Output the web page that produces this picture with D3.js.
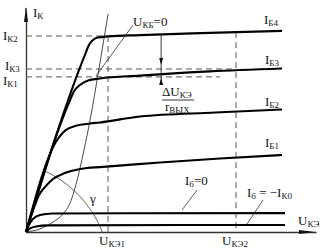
<!DOCTYPE html>
<html><head><meta charset="utf-8">
<script src="https://cdn.jsdelivr.net/npm/d3@7"></script>
<style>
html,body{margin:0;padding:0;background:#fff;}
svg{display:block;}
text{font-family:"Liberation Serif","Times New Roman",serif;fill:#111;}
</style>
</head><body>
<svg id="c" width="323" height="250"></svg>
<script>
// ---- data (U in arbitrary units along UКЭ, I along IК) ----
const curveIB4 = [[0,0],[2.07,8.18],[2.17,8.50],[2.31,8.73],[2.48,8.84],[2.83,8.89],[3.93,8.95],[6.34,9.05],[8.83,9.14]];
const curveIB3 = [[0,0],[1.52,6.0],[1.66,6.41],[1.86,6.68],[2.14,6.89],[2.55,6.98],[3.93,7.11],[6.34,7.30],[8.83,7.43]];
const curveIB2 = [[0,0],[1.03,4.09],[1.17,4.36],[1.38,4.64],[1.69,4.82],[2.21,4.93],[2.55,4.98],[3.93,5.25],[6.52,5.43],[8.83,5.57]];
const curveIB1 = [[0,0],[0.31,1.23],[0.45,1.68],[0.66,2.05],[0.93,2.41],[1.34,2.68],[2.10,2.91],[2.55,2.95],[4.62,3.16],[6.69,3.34],[8.83,3.50]];
const curveIb0 = [[0,0],[0.10,0.32],[0.24,0.59],[0.48,0.77],[0.90,0.84],[8.93,0.86]];
const curveIbK0 = [[0,0],[0.14,0.16],[0.34,0.25],[0.76,0.30],[8.93,0.32]];
const curveUKB0 = [[0,0],[0.48,0.14],[0.93,0.45],[1.28,0.82],[1.52,1.32],[1.79,2.50],[2.00,3.73],[2.21,5.09],[2.52,7.45],[2.83,9.91]];
const levelsIK = {IK2: 8.91, IK3: 7.41, IK1: 7.05};
const levelsU = {UKE1: 2.83, UKE2: 7.24};
const dimensionU = 4.66;        // where the ΔI arrows sit
const gammaCenter = [-0.97,-1.86]; // centre of the γ arc (data units)
const gammaEnd = 2.63;          // where the γ arc meets the U axis

const svg = d3.select("#c");
const x = d3.scaleLinear().domain([0,10]).range([26,316]);
const y = d3.scaleLinear().domain([0,10]).range([232,12]);

function valAt(curve,u){
  const i = d3.bisector(d=>d[0]).left(curve,u);
  if(i<=0) return curve[0][1];
  if(i>=curve.length) return curve[curve.length-1][1];
  const a=curve[i-1], b=curve[i];
  return a[1]+(b[1]-a[1])*(u-a[0])/(b[0]-a[0]);
}

// axes (domain lines only)
svg.append("g").attr("transform",`translate(0,${y(0)})`)
  .call(d3.axisBottom(x).tickValues([]).tickSizeOuter(0))
  .call(g=>g.select(".domain").attr("stroke","#333").attr("stroke-width",1.3));
svg.append("g").attr("transform",`translate(${x(0)},0)`)
  .call(d3.axisLeft(y).tickValues([]).tickSizeOuter(0))
  .call(g=>g.select(".domain").attr("stroke","#333").attr("stroke-width",1.3));
svg.append("line").attr("x1",x(0)).attr("x2",x(0)).attr("y1",y(10)).attr("y2",8).attr("stroke","#333").attr("stroke-width",1.3);
// arrowheads
svg.append("path").attr("d",`M${x(0)},7 L${x(0)-2},22 L${x(0)+2},22 Z`).attr("fill","#111");
svg.append("path").attr("d",`M315,${y(0)} L299,${y(0)-2} L299,${y(0)+2} Z`).attr("fill","#111");

// dashed helper lines
const dash = (x1,y1,x2,y2)=>svg.append("line").attr("x1",x1).attr("y1",y1).attr("x2",x2).attr("y2",y2)
  .attr("stroke","#555").attr("stroke-width",1).attr("stroke-dasharray","6,4");
dash(x(0),y(levelsIK.IK2),x(levelsU.UKE1),y(levelsIK.IK2));
dash(x(0),y(levelsIK.IK3),x(levelsU.UKE2),y(levelsIK.IK3));
dash(x(0),y(levelsIK.IK1),x(6.69),y(levelsIK.IK1));
dash(x(levelsU.UKE1),y(levelsIK.IK2),x(levelsU.UKE1),y(0));
dash(x(levelsU.UKE2),y(valAt(curveIB4,levelsU.UKE2)),x(levelsU.UKE2),y(0));

// curves
const line = d3.line().x(d=>x(d[0])).y(d=>y(d[1])).curve(d3.curveMonotoneX);
svg.append("path").attr("d",line(curveUKB0)).attr("fill","none").attr("stroke","#333").attr("stroke-width",0.9);

// gamma arc: circle (in pixels) from the U axis up to the steep line of IБ4
const cx = x(gammaCenter[0]), cy = y(gammaCenter[1]);
const r = Math.hypot(x(gammaEnd)-cx, y(0)-cy);
const steep = curveIB4[1];
const steepXat = py => x(0) + (x(steep[0])-x(0))*(y(0)-py)/(y(0)-y(steep[1]));
const a0 = Math.atan2(y(0)-cy, x(gammaEnd)-cx);
const arcPts=[];
for(let a=a0; a>-Math.PI/2; a-=0.005){
  const px=cx+r*Math.cos(a), py=cy+r*Math.sin(a);
  if(px<steepXat(py)) break;
  arcPts.push([px,py]);
}
svg.append("path").attr("d",d3.line()(arcPts)).attr("fill","none").attr("stroke","#333").attr("stroke-width",0.9);

[curveIB4,curveIB3,curveIB2,curveIB1,curveIb0,curveIbK0].forEach(c=>{
  svg.append("path").attr("d",line(c)).attr("fill","none").attr("stroke","#000").attr("stroke-width",2.1).attr("stroke-linejoin","round");
});

// ΔI dimension arrows
const ax = x(dimensionU);
const topY = y(valAt(curveIB4,dimensionU));
svg.append("line").attr("x1",ax).attr("x2",ax).attr("y1",topY).attr("y2",84).attr("stroke","#222").attr("stroke-width",0.9);
svg.append("path").attr("d",`M${ax},65 L${ax-2},58 L${ax+2},58 Z`).attr("fill","#111");
svg.append("path").attr("d",`M${ax},${y(levelsIK.IK1)+1} L${ax-2},${y(levelsIK.IK1)+8} L${ax+2},${y(levelsIK.IK1)+8} Z`).attr("fill","#111");

// leaders
const thin=(x1,y1,x2,y2)=>svg.append("line").attr("x1",x1).attr("y1",y1).attr("x2",x2).attr("y2",y2).attr("stroke","#333").attr("stroke-width",0.8);
thin(133,25,96,76);
thin(197,190,182,210);
thin(263,200,247,224);

// labels with subscripts
function label(px,py,parts){
  const t=svg.append("text").attr("x",px).attr("y",py).attr("font-size",13);
  let shifted=false;
  parts.forEach(p=>{
    const [s,sub]=p;
    const ts=t.append("tspan").text(s);
    if(sub && !shifted){ts.attr("font-size",9).attr("dy",2);shifted=true;}
    else if(!sub && shifted){ts.attr("dy",-2);shifted=false;}
    else if(sub){ts.attr("font-size",9);}
  });
  return t;
}
label(33,17,[["I"],["К",1]]);
label(3,40,[["I"],["К2",1]]);
label(5,70,[["I"],["К3",1]]);
label(3,85,[["I"],["К1",1]]);
label(133,26,[["U"],["КБ",1],["=0"]]);
label(264,24,[["I"],["Б4",1]]);
label(265,64,[["I"],["Б3",1]]);
label(265,106,[["I"],["Б2",1]]);
label(265,147,[["I"],["Б1",1]]);
label(185,185,[["I"],["б",1],["=0"]]);
label(247,197,[["I"],["б",1],[" = −I"],["К0",1]]);
label(298,225,[["U"],["КЭ",1]]);
label(99,245,[["U"],["КЭ1",1]]);
label(222,245,[["U"],["КЭ2",1]]);
label(162,96,[["ΔU"],["КЭ",1]]);
svg.append("line").attr("x1",162).attr("x2",194).attr("y1",100).attr("y2",100).attr("stroke","#222").attr("stroke-width",0.9);
label(165,111,[["r"],["ВЫХ",1]]);
svg.append("text").attr("x",90).attr("y",203).attr("font-size",13).text("γ");
</script>
</body></html>
